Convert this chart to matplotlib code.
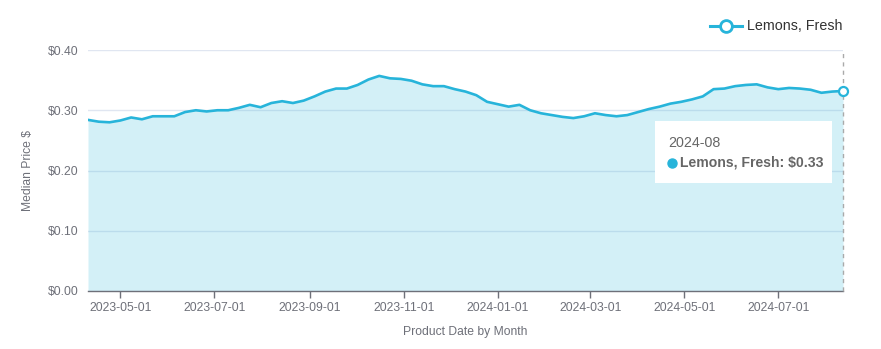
import matplotlib
matplotlib.use('Agg')
import matplotlib.pyplot as plt
import matplotlib.dates as mdates
import pandas as pd
from matplotlib.patches import Rectangle
from matplotlib.lines import Line2D

plt.rcParams['font.family'] = ['Liberation Sans', 'DejaVu Sans']

# ---- data ----
series_name = 'Lemons, Fresh'
start_date = '2023-04-10'
prices = [0.284, 0.281, 0.280, 0.283, 0.288, 0.285, 0.290, 0.290, 0.290, 0.297,
          0.300, 0.298, 0.300, 0.300, 0.304, 0.309, 0.305, 0.312, 0.315, 0.312,
          0.316, 0.323, 0.331, 0.336, 0.336, 0.342, 0.351, 0.357, 0.353, 0.352,
          0.349, 0.343, 0.340, 0.340, 0.335, 0.331, 0.325, 0.314, 0.310, 0.306,
          0.309, 0.300, 0.295, 0.292, 0.289, 0.287, 0.290, 0.295, 0.292, 0.290,
          0.292, 0.297, 0.302, 0.306, 0.311, 0.314, 0.318, 0.323, 0.335, 0.336,
          0.340, 0.342, 0.343, 0.338, 0.335, 0.337, 0.336, 0.334, 0.329, 0.331,
          0.332]
dates = pd.date_range(start_date, periods=len(prices), freq='7D')
tick_dates = pd.to_datetime(['2023-05-01', '2023-07-01', '2023-09-01', '2023-11-01',
                             '2024-01-01', '2024-03-01', '2024-05-01', '2024-07-01'])
y_ticks = [0.0, 0.1, 0.2, 0.3, 0.4]
y_labels = ['$0.00', '$0.10', '$0.20', '$0.30', '$0.40']
tooltip_title = '2024-08'
tooltip_value = '$0.33'

# ---- style ----
LINE = '#27b4da'
AXIS = '#6E7079'
GRID = '#E0E6F1'
W, H = 881, 349

fig = plt.figure(figsize=(W / 100, H / 100), dpi=100)
ax = fig.add_axes([88 / W, 1 - 291 / H, (843 - 88) / W, (291 - 50) / H])

ax.fill_between(dates, prices, 0, color=LINE, alpha=0.2, lw=0, zorder=2)
ax.plot(dates, prices, color=LINE, lw=1.9, zorder=3, solid_joinstyle='round')

ax.set_xlim(dates[0], dates[-1])
ax.set_ylim(0, 0.4)
ax.set_yticks(y_ticks)
ax.set_yticklabels(y_labels)
ax.set_xticks(tick_dates)
ax.xaxis.set_major_formatter(mdates.DateFormatter('%Y-%m-%d'))

ax.yaxis.grid(True, color=GRID, lw=1, zorder=1)
ax.set_axisbelow(True)
for s in ['top', 'right', 'left']:
    ax.spines[s].set_visible(False)
ax.spines['bottom'].set_color(AXIS)
ax.spines['bottom'].set_linewidth(1)
ax.spines['bottom'].set_zorder(4)

ax.tick_params(axis='y', length=0, pad=7, labelsize=8.7, labelcolor=AXIS)
ax.tick_params(axis='x', length=5, width=1, color=AXIS, pad=3, labelsize=8.7, labelcolor=AXIS)

ax.set_ylabel('Median Price $', fontsize=8.7, color=AXIS)
ax.yaxis.set_label_coords((34 - 88) / 755, 0.5)
ax.set_xlabel('Product Date by Month', fontsize=8.7, color=AXIS)
ax.xaxis.set_label_coords(0.5, (291 - 326) / 241)

# hover crosshair + point
ax.axvline(dates[-1], color='#aaaaaa', lw=1, ls=(0, (3, 3)), zorder=5, clip_on=False)
ax.plot([dates[-1]], [prices[-1]], 'o', mfc='white', mec=LINE, ms=6.5, mew=1.6,
        clip_on=False, zorder=6)

# ---- legend (figure pixels) ----
def fx(x):
    return x / W

def fy(y):
    return 1 - y / H

fig.add_artist(Line2D([fx(710), fx(742)], [fy(26), fy(26)], color=LINE, lw=2.2,
                      transform=fig.transFigure))
fig.add_artist(Line2D([fx(726)], [fy(26)], marker='o', ms=8.5, mfc='white', mec=LINE,
                      mew=2, transform=fig.transFigure))
fig.text(fx(747), fy(26), series_name, fontsize=10.3, color='#333333', va='center', ha='left')

# ---- tooltip ----
fig.add_artist(Rectangle((fx(655), fy(183)), (832 - 655) / W, (183 - 121) / H,
                         transform=fig.transFigure, facecolor='white', edgecolor='white',
                         lw=0, zorder=10))
fig.text(fx(668), fy(143), tooltip_title, fontsize=10.3, color='#666666', va='center',
         ha='left', zorder=11)
fig.add_artist(Line2D([fx(672)], [fy(163)], marker='o', ms=6.5, mfc=LINE, mec=LINE,
                      transform=fig.transFigure, zorder=11))
fig.text(fx(680), fy(163), f'{series_name}: {tooltip_value}', fontsize=10.1, color='#666666',
         fontweight='bold', va='center', ha='left', zorder=11)

fig.savefig('out.png', dpi=100)
